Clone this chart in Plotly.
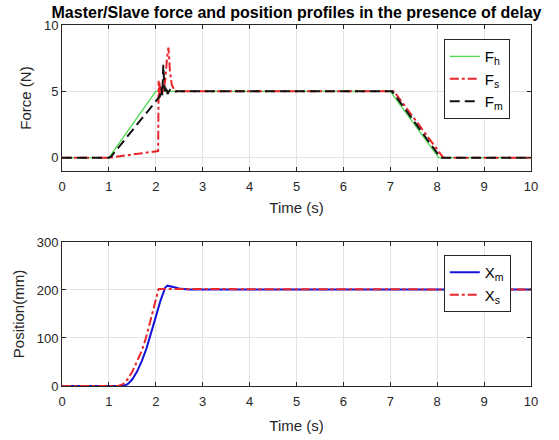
import plotly.graph_objects as go

# ---- Force data ----
fh_t = [0, 1.0, 2.0, 7.0, 8.03, 10]
fh_v = [0, 0, 5.0, 5.0, 0, 0]

fs_t = [0, 1.0, 2.05, 2.06, 2.07, 2.08, 2.09, 2.10, 2.11, 2.12, 2.13, 2.15, 2.17, 2.20, 2.24, 2.27, 2.30, 2.34, 2.41, 2.5, 7.08, 8.13, 10]
fs_v = [0, 0, 0.5, 5.8, 4.6, 5.7, 4.5, 5.5, 4.8, 5.2, 4.9, 5.0, 5.2, 5.8, 7.5, 8.3, 6.6, 5.5, 5.0, 5.0, 5.0, 0, 0]

fm_t = [0, 1.0, 1.05, 2.0, 2.08, 2.10, 2.12, 2.14, 2.16, 2.18, 2.20, 2.22, 2.25, 2.30, 2.35, 2.45, 7.04, 8.07, 10]
fm_v = [0, 0, 0.1, 4.3, 4.6, 4.8, 5.3, 4.7, 7.0, 5.5, 5.0, 5.4, 4.8, 5.1, 4.95, 5.0, 5.0, 0, 0]

# ---- Position data ----
xm_t = [0, 1.3, 1.4, 1.5, 1.6, 1.7, 1.8, 1.87, 2.0, 2.1, 2.2, 2.25, 2.3, 2.4, 2.5, 2.7, 10]
xm_v = [0, 0, 4, 14, 30, 52, 78, 100, 144, 178, 205, 209, 208, 205, 203, 201, 201]

xs_t = [0, 1.2, 1.3, 1.4, 1.5, 1.6, 1.7, 1.79, 1.9, 2.0, 2.06, 2.2, 10]
xs_v = [0, 0, 4, 14, 30, 50, 73, 100, 142, 183, 202, 202, 201]

x_ticks = list(range(0, 11))
f_ticks = [0, 5, 10]
p_ticks = [0, 100, 200, 300]

AX = "#262626"
GRID = "#e3e3e3"
FONT = "Liberation Sans, Arial, sans-serif"

fig = go.Figure()
fig.add_trace(go.Scatter(x=fh_t, y=fh_v, mode="lines", name="F<sub>h</sub>",
                         line=dict(color="#4cd94c", width=1.3), legend="legend", xaxis="x", yaxis="y"))
fig.add_trace(go.Scatter(x=fs_t, y=fs_v, mode="lines", name="F<sub>s</sub>",
                         line=dict(color="#e8262b", width=2, dash="dashdot"), legend="legend", xaxis="x", yaxis="y"))
fig.add_trace(go.Scatter(x=fm_t, y=fm_v, mode="lines", name="F<sub>m</sub>",
                         line=dict(color="#111111", width=2, dash="10px,5px"), legend="legend", xaxis="x", yaxis="y"))
fig.add_trace(go.Scatter(x=xm_t, y=xm_v, mode="lines", name="X<sub>m</sub>",
                         line=dict(color="#1414d8", width=2), legend="legend2", xaxis="x2", yaxis="y2"))
fig.add_trace(go.Scatter(x=xs_t, y=xs_v, mode="lines", name="X<sub>s</sub>",
                         line=dict(color="#e8262b", width=2, dash="dashdot"), legend="legend2", xaxis="x2", yaxis="y2"))

axis_common = dict(showline=True, linecolor=AX, linewidth=1, mirror="ticks",
                   ticks="inside", ticklen=4, tickcolor=AX, showgrid=True, gridcolor=GRID,
                   gridwidth=1, zeroline=False, automargin=False,
                   tickfont=dict(family=FONT, size=13, color=AX))
title_font = dict(family=FONT, size=15, color=AX)

fig.update_layout(
    width=559, height=440,
    margin=dict(l=62, r=27.5, t=25, b=54),
    paper_bgcolor="white", plot_bgcolor="white",
    font=dict(family=FONT, color=AX),
    title=dict(text="<b>Master/Slave force and position profiles in the presence of delay</b>",
               x=0.5, xref="paper", xanchor="center", y=1 - 12 / 440, yanchor="middle", yref="container",
               font=dict(family=FONT, size=16, color="#000000")),
    xaxis=dict(domain=[0, 1], anchor="y", range=[0, 10], tickvals=x_ticks, ticklabelstandoff=3,
               title=dict(text="Time (s)", font=title_font, standoff=9), **axis_common),
    yaxis=dict(domain=[0.5956, 1], anchor="x", range=[-1, 10], tickvals=f_ticks,
               title=dict(text="Force (N)", font=title_font, standoff=8), **axis_common),
    xaxis2=dict(domain=[0, 1], anchor="y2", range=[0, 10], tickvals=x_ticks, ticklabelstandoff=3,
                title=dict(text="Time (s)", font=title_font, standoff=12), **axis_common),
    yaxis2=dict(domain=[0, 0.3989], anchor="x2", range=[0, 300], tickvals=p_ticks,
                title=dict(text="Position(mm)", font=title_font, standoff=8), **axis_common),
    legend=dict(x=0.814, y=0.961, xanchor="left", yanchor="top",
                bgcolor="white", bordercolor=AX, borderwidth=1,
                font=dict(family=FONT, size=15, color="#000000"), tracegroupgap=0),
    legend2=dict(x=0.814, y=0.363, xanchor="left", yanchor="top",
                 bgcolor="white", bordercolor=AX, borderwidth=1,
                 font=dict(family=FONT, size=15, color="#000000"), tracegroupgap=0),
    showlegend=True,
)

fig.write_html("out.html", config={"displayModeBar": False},
               post_script="document.body.style.margin='0px';document.body.style.overflow='hidden';")
